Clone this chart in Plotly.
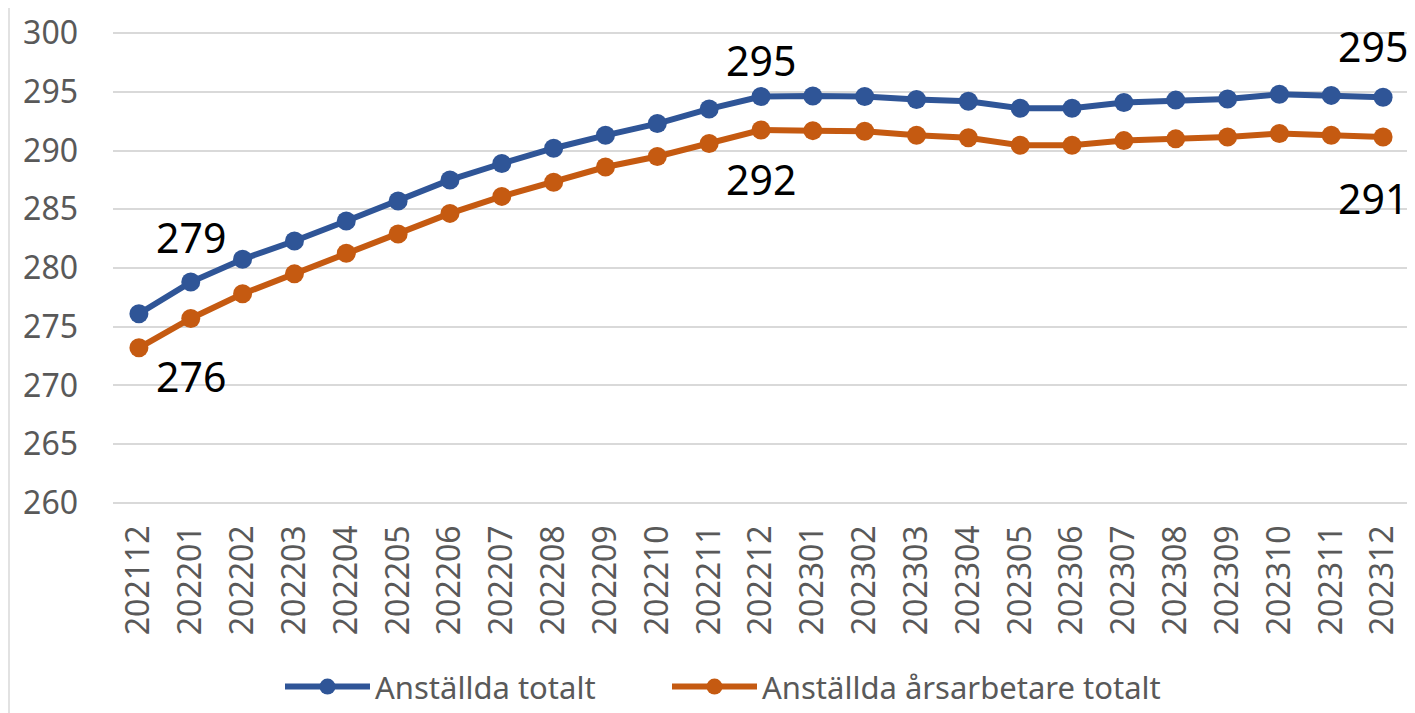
import plotly.graph_objects as go

months = ["202112", "202201", "202202", "202203", "202204", "202205", "202206",
          "202207", "202208", "202209", "202210", "202211", "202212",
          "202301", "202302", "202303", "202304", "202305", "202306",
          "202307", "202308", "202309", "202310", "202311", "202312"]

anstallda_totalt = [276.1, 278.8, 280.75, 282.3, 284.0, 285.7, 287.5,
                    288.9, 290.2, 291.3, 292.3, 293.55, 294.6,
                    294.65, 294.6, 294.35, 294.2, 293.6, 293.6,
                    294.1, 294.3, 294.4, 294.8, 294.7, 294.55]

arsarbetare_totalt = [273.2, 275.7, 277.8, 279.5, 281.25, 282.9, 284.65,
                      286.1, 287.3, 288.6, 289.5, 290.6, 291.75,
                      291.7, 291.65, 291.3, 291.1, 290.45, 290.45,
                      290.85, 291.0, 291.15, 291.45, 291.3, 291.15]

series_names = ["Anställda totalt", "Anställda årsarbetare totalt"]
labeled_idx = [1, 12, 24]

BLUE = "#2F5597"
ORANGE = "#C55A11"
GRAY = "#595959"
GRID = "#D9D9D9"

xpos = list(range(len(months)))

fig = go.Figure()
for name, vals, col, lg in [(series_names[0], anstallda_totalt, BLUE, "legend"),
                            (series_names[1], arsarbetare_totalt, ORANGE, "legend2")]:
    fig.add_trace(go.Scatter(
        x=xpos, y=vals, name=name, mode="lines+markers",
        line=dict(color=col, width=6),
        marker=dict(color=col, size=19),
        legend=lg,
    ))

# data labels
blue_shift = {1: 45, 12: 37, 24: 51}
orange_shift = {1: -58, 12: -49, 24: -61}
x_shift = {1: 0, 12: 0, 24: -10}
for i in labeled_idx:
    fig.add_annotation(x=xpos[i], y=anstallda_totalt[i],
                       text=str(round(anstallda_totalt[i])), showarrow=False,
                       yshift=blue_shift[i], xshift=x_shift[i],
                       font=dict(family="Noto Sans", size=41, color="black"))
    fig.add_annotation(x=xpos[i], y=arsarbetare_totalt[i],
                       text=str(round(arsarbetare_totalt[i])), showarrow=False,
                       yshift=orange_shift[i], xshift=x_shift[i],
                       font=dict(family="Noto Sans", size=41, color="black"))

# page body has an 8px margin: the figure is sized so it fills the 1415x713 view
W, H = 1407, 705
L, R, T, B = 105, 6, 24, 209
pw = W - L - R
ph = H - T - B
fig.add_shape(type="line", xref="paper", yref="paper",
              x0=-(L - 1) / pw, x1=-(L - 1) / pw, y0=-B / ph, y1=1 + T / ph,
              line=dict(color=GRID, width=1.5))

leg_common = dict(orientation="h", xanchor="left",
                  yref="container", y=0.037, yanchor="middle",
                  font=dict(size=31, color=GRAY, family="Noto Sans"),
                  itemwidth=85, bgcolor="rgba(0,0,0,0)")

fig.update_layout(
    width=W, height=H,
    margin=dict(l=L, r=R, t=T, b=B, autoexpand=False),
    paper_bgcolor="white", plot_bgcolor="white",
    font=dict(family="Noto Sans", color=GRAY),
    showlegend=True,
    legend=dict(xref="container", x=272 / W, **leg_common),
    legend2=dict(xref="container", x=659 / W, **leg_common),
    xaxis=dict(range=[-0.5, len(months) - 0.5], tickmode="array",
               tickvals=xpos, ticktext=months, tickangle=-90, showgrid=False,
               showline=False, zeroline=False, ticks="", automargin=False,
               tickfont=dict(size=32, color=GRAY, family="Noto Sans"),
               ticklabelstandoff=14),
    yaxis=dict(range=[259.9, 300.1], dtick=5, tick0=260, showgrid=True,
               gridcolor=GRID, gridwidth=2, zeroline=False, showline=False,
               ticks="", automargin=False,
               tickfont=dict(size=32, color=GRAY, family="Noto Sans"),
               ticklabelstandoff=34),
)

fig.write_html("out.html")
